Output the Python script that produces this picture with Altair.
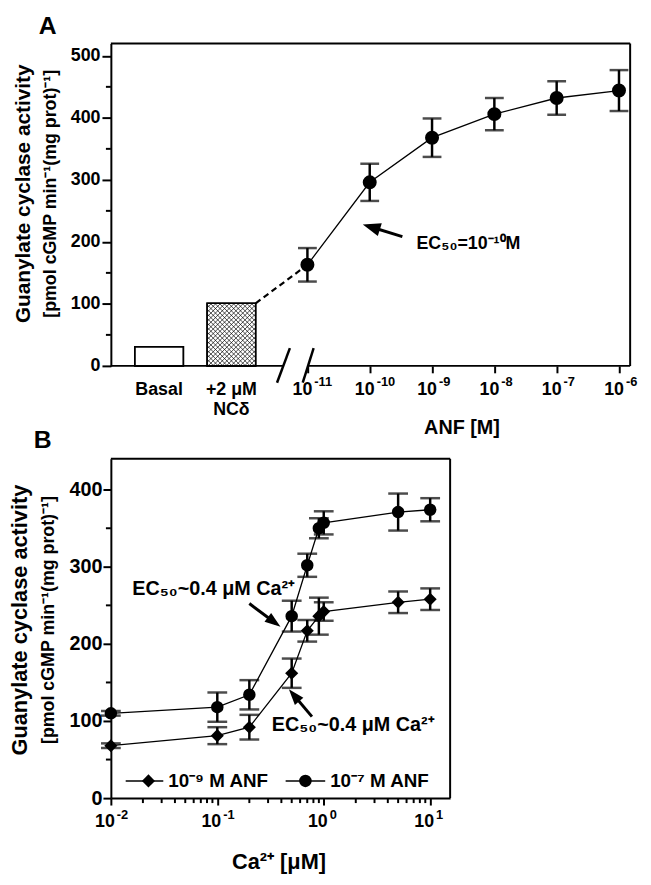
import math
import altair as alt
import pandas as pd

FONT = "Liberation Sans"

# ---------------- Panel A data ----------------
bar_labels = ["Basal", "+2 μM\nNCδ"]
bar_values = [31, 101]
bar_left = [-13.77, -12.61]      # slot on the ANF axis (log10 M units)
bar_right = [-12.99, -11.83]
anf_exponents = [-11, -10, -9, -8, -7, -6]
anf_tick_base = ["10", "10", "10", "10", "10", "10"]
anf_tick_exp = ["-11", "-10", "-9", "-8", "-7", "-6"]
anf_activity = [163, 296, 368, 406, 432, 444]
anf_sem = [27, 30, 31, 26, 27, 33]
a_y_ticks = [0, 100, 200, 300, 400, 500]
a_y_minor = [50, 150, 250, 350, 450]

# ---------------- Panel B data ----------------
ca_um = [0.01, 0.1, 0.2, 0.5, 0.7, 0.9, 1.0, 5, 10]
act_anf9 = [68, 81, 92, 162, 217, 236, 242, 254, 258]
sem_anf9 = [3, 11, 16, 19, 14, 24, 12, 14, 14]
act_anf7 = [110, 118, 134, 236, 302, 350, 357, 371, 374]
sem_anf7 = [3, 19, 19, 20, 15, 13, 15, 24, 15]
series_names = ["10⁻⁹ M ANF", "10⁻⁷ M ANF"]
ca_tick_values = [0.01, 0.1, 1, 10]
ca_tick_base = ["10", "10", "10", "10"]
ca_tick_exp = ["-2", "-1", "0", "1"]
b_y_ticks = [0, 100, 200, 300, 400]
b_y_minor = [50, 150, 250, 350]
ca_minor = [m * d for d in [0.01, 0.1, 1] for m in range(2, 10)]

y_title_1 = "Guanylate cyclase activity"
y_title_2 = "[pmol cGMP min⁻¹(mg prot)⁻¹]"

# ---------------- geometry ----------------
A_W, A_H = 525, 326
A_X = [-14.154, -5.821]
A_Y = [0, 520]
B_W, B_H = 343, 343
B_X = [0.01, 15.4]
B_Y = [0, 440]

one = pd.DataFrame({"a": [0]})


def txt(text, x, y, size, angle=0, align="center", baseline="alphabetic"):
    return alt.Chart(one).mark_text(
        text=text, font=FONT, fontWeight="bold", fontSize=size, align=align,
        baseline=baseline, angle=angle, color="black"
    ).encode(x=alt.value(x), y=alt.value(y))


def seg(x, y, x2, y2, w=2.0):
    return alt.Chart(one).mark_rule(color="black", strokeWidth=w).encode(
        x=alt.value(x), y=alt.value(y), x2=alt.value(x2), y2=alt.value(y2))


def arrow(tail, tip, r, half_w, w=3.0):
    dx, dy = tip[0] - tail[0], tip[1] - tail[1]
    L = math.hypot(dx, dy)
    ux, uy = dx / L, dy / L
    cx, cy = tip[0] - r * ux, tip[1] - r * uy
    ang = math.degrees(math.atan2(ux, -uy)) % 360
    path = f"M0,-1L{half_w},1L-{half_w},1Z"
    head = alt.Chart(one).mark_point(
        shape=path, filled=True, color="black", opacity=1, size=(2 * r) ** 2,
        angle=ang, strokeWidth=0
    ).encode(x=alt.value(cx), y=alt.value(cy))
    return seg(tail[0], tail[1], cx + 0.3 * r * ux, cy + 0.3 * r * uy, w) + head


def power_labels(df, xenc, y_base, y_exp, base_size, exp_size, dx):
    base = alt.Chart(df).mark_text(font=FONT, fontWeight="bold", fontSize=base_size, align="right",
                                   baseline="alphabetic", dx=dx, color="black").encode(
        x=xenc, y=alt.value(y_base), text="base:N")
    expo = alt.Chart(df).mark_text(font=FONT, fontWeight="bold", fontSize=exp_size, align="left",
                                   baseline="alphabetic", dx=dx + 2, color="black").encode(
        x=xenc, y=alt.value(y_exp), text="exp:N")
    return base + expo


# ================= Panel A =================
a_y_axis = alt.Axis(values=a_y_ticks, tickSize=9, tickWidth=2, tickColor="black",
                    domainWidth=2, domainColor="black", labelFont=FONT,
                    labelFontSize=18, labelFontWeight="bold", labelColor="black",
                    labelPadding=2, grid=False, title=None)
a_x_axis = alt.Axis(values=anf_exponents, labels=False, tickSize=7, tickWidth=2,
                    tickColor="black", domain=False, grid=False, title=None)
a_xs = alt.Scale(domain=A_X, nice=False, zero=False)
a_ys = alt.Scale(domain=A_Y, nice=False)


def xA(f):
    return alt.X(f, type="quantitative", scale=a_xs, axis=a_x_axis)


def yA(f):
    return alt.Y(f, type="quantitative", scale=a_ys, axis=a_y_axis)


bars = pd.DataFrame({"label": bar_labels, "v": bar_values, "l": bar_left, "r": bar_right})
bars["c"] = (bars["l"] + bars["r"]) / 2

bar_layer = alt.Chart(bars).mark_rect(fill="white", stroke="black", strokeWidth=1.5).encode(
    x=xA("l"), x2="r", y=yA("v"), y2=alt.datum(0))

# cross-hatch fill of the second bar (pixel pattern -> data units)
kx = A_W / (A_X[1] - A_X[0])
ky = A_H / (A_Y[1] - A_Y[0])
px0 = (bar_left[1] - A_X[0]) * kx
px1 = (bar_right[1] - A_X[0]) * kx
py0 = A_H - bar_values[1] * ky
py1 = A_H
rows = []
step = 4.6
c = -(px1 - py0) - step
while c < py1 - px0 + step:
    a0, a1 = max(px0, py0 - c), min(px1, py1 - c)
    if a1 > a0:
        rows.append((a0, a0 + c, a1, a1 + c))
    c += step
c = px0 + py0 - step
while c < px1 + py1 + step:
    a0, a1 = max(px0, c - py1), min(px1, c - py0)
    if a1 > a0:
        rows.append((a0, c - a0, a1, c - a1))
    c += step
hatch = pd.DataFrame(
    [(A_X[0] + p[0] / kx, (A_H - p[1]) / ky, A_X[0] + p[2] / kx, (A_H - p[3]) / ky) for p in rows],
    columns=["hx", "hy", "hx2", "hy2"])
hatch_layer = alt.Chart(hatch).mark_rule(color="black", strokeWidth=0.7).encode(
    x=xA("hx"), y=yA("hy"), x2="hx2", y2="hy2")
bar_outline = alt.Chart(bars).mark_rect(fill="transparent", stroke="black", strokeWidth=1.5).encode(
    x=xA("l"), x2="r", y=yA("v"), y2=alt.datum(0))

anf = pd.DataFrame({"x": anf_exponents, "y": anf_activity, "e": anf_sem})
anf["lo"] = anf["y"] - anf["e"]
anf["hi"] = anf["y"] + anf["e"]
caps_a = pd.concat([anf[["x"]].assign(cap=anf["lo"]), anf[["x"]].assign(cap=anf["hi"])])

dash = pd.DataFrame({"x": [bar_right[1], anf_exponents[0]], "y": [bar_values[1], anf_activity[0]]})
dash_layer = alt.Chart(dash).mark_line(color="black", strokeWidth=2.2, strokeDash=[6, 4]).encode(
    x=xA("x"), y=yA("y"))
line_a = alt.Chart(anf).mark_line(color="black", strokeWidth=1.3).encode(x=xA("x"), y=yA("y"))
err_a = alt.Chart(anf).mark_rule(color="black", strokeWidth=2.5).encode(
    x=xA("x"), y=yA("lo"), y2="hi")
cap_a = alt.Chart(caps_a).mark_tick(color="black", orient="horizontal", size=19, thickness=2.5).encode(
    x=xA("x"), y=yA("cap"))
pts_a = alt.Chart(anf).mark_point(shape="circle", filled=True, color="black", opacity=1, size=200).encode(
    x=xA("x"), y=yA("y"))
minor_a = alt.Chart(pd.DataFrame({"m": a_y_minor})).mark_rule(color="black", strokeWidth=2).encode(
    x=alt.value(-5), x2=alt.value(0), y=yA("m"))
bar_text = alt.Chart(bars).mark_text(font=FONT, fontWeight="bold", fontSize=18, baseline="alphabetic",
                                     lineBreak="\n", lineHeight=21, color="black").encode(
    x=xA("c"), y=alt.value(355), text="label:N")
a_ticks_df = pd.DataFrame({"x": anf_exponents, "base": anf_tick_base, "exp": anf_tick_exp})
a_tick_labels = power_labels(a_ticks_df, xA("x"), 355, 346, 18, 13, 5)

chartA = alt.layer(
    bar_layer, hatch_layer, bar_outline, dash_layer, line_a, err_a, cap_a, pts_a, minor_a, bar_text,
    a_tick_labels,
    seg(0, 0, A_W, 0), seg(A_W, 0, A_W, A_H),
    seg(0, A_H, 174.5, A_H), seg(199.6, A_H, A_W, A_H),
    seg(168, 343, 181, 308, 2.5), seg(194, 343, 205, 308, 2.5),
    txt("ANF  [M]", 355, 395, 20),
    txt(y_title_1, -88, 152, 21, angle=270, baseline="middle"),
    txt(y_title_2, -60, 152, 18, angle=270, baseline="middle"),
    txt("A", -64, -10, 25),
    txt("EC₅₀=10⁻¹⁰M", 309, 203, 18, align="left", baseline="middle"),
    arrow((294.7, 195.3), (254.7, 183), 9, 0.75),
).properties(width=A_W, height=A_H)

# ================= Panel B =================
b_y_axis = alt.Axis(values=b_y_ticks, tickSize=8, tickWidth=2, tickColor="black",
                    domainWidth=2, domainColor="black", labelFont=FONT,
                    labelFontSize=20, labelFontWeight="bold", labelColor="black",
                    labelPadding=1, grid=False, title=None)
b_x_axis = alt.Axis(values=ca_tick_values, labels=False, tickSize=7, tickWidth=2,
                    tickColor="black", domainWidth=2, domainColor="black",
                    grid=False, title=None)
b_xs = alt.Scale(type="log", domain=B_X, nice=False)
b_ys = alt.Scale(domain=B_Y, nice=False)


def xB(f):
    return alt.X(f, type="quantitative", scale=b_xs, axis=b_x_axis)


def yB(f):
    return alt.Y(f, type="quantitative", scale=b_ys, axis=b_y_axis)


rowsB = []
for name, acts, sems in [(series_names[0], act_anf9, sem_anf9), (series_names[1], act_anf7, sem_anf7)]:
    for x, y, e in zip(ca_um, acts, sems):
        rowsB.append({"series": name, "x": x, "y": y, "lo": y - e, "hi": y + e})
dfB = pd.DataFrame(rowsB)
capsB = pd.concat([dfB[["series", "x"]].assign(cap=dfB["lo"]), dfB[["series", "x"]].assign(cap=dfB["hi"])])

shape_enc = alt.Shape("series:N", scale=alt.Scale(domain=series_names, range=["diamond", "circle"]), legend=None)
size_enc = alt.Size("series:N", scale=alt.Scale(domain=series_names, range=[175, 160]), legend=None)

line_b = alt.Chart(dfB).mark_line(color="black", strokeWidth=1.3).encode(
    x=xB("x"), y=yB("y"), detail="series:N")
err_b = alt.Chart(dfB).mark_rule(color="black", strokeWidth=2.5).encode(
    x=xB("x"), y=yB("lo"), y2="hi")
cap_b = alt.Chart(capsB).mark_tick(color="black", orient="horizontal", size=20, thickness=2.5).encode(
    x=xB("x"), y=yB("cap"))
pts_b = alt.Chart(dfB).mark_point(filled=True, color="black", opacity=1).encode(
    x=xB("x"), y=yB("y"), shape=shape_enc, size=size_enc)
minor_by = alt.Chart(pd.DataFrame({"m": b_y_minor})).mark_rule(color="black", strokeWidth=2).encode(
    x=alt.value(-5), x2=alt.value(0), y=yB("m"))
minor_bx = alt.Chart(pd.DataFrame({"m": ca_minor})).mark_rule(color="black", strokeWidth=2).encode(
    x=xB("m"), y=alt.value(B_H), y2=alt.value(B_H + 5))
b_ticks_df = pd.DataFrame({"x": ca_tick_values, "base": ca_tick_base, "exp": ca_tick_exp})
b_tick_labels = power_labels(b_ticks_df, xB("x"), 372, 364, 18, 13, 4)


def legend_item(x0, x1, cx, shape, size, label):
    sym = alt.Chart(one).mark_point(shape=shape, filled=True, color="black", opacity=1, size=size).encode(
        x=alt.value(cx), y=alt.value(325.6))
    return seg(x0, 325.6, x1, 325.6, 1.5) + sym + txt(label, x1 + 5, 325.6, 19, align="left", baseline="middle")


chartB = alt.layer(
    line_b, err_b, cap_b, pts_b, minor_by, minor_bx, b_tick_labels,
    seg(0, 0, B_W, 0), seg(B_W, 0, B_W, B_H),
    legend_item(15, 53, 38, "diamond", 175, series_names[0]),
    legend_item(176.7, 216.7, 196.7, "circle", 160, series_names[1]),
    txt("Ca²⁺ [μM]", 170, 415, 22),
    txt(y_title_1, -92, 163, 22, angle=270, baseline="middle"),
    txt(y_title_2, -62, 163, 18, angle=270, baseline="middle"),
    txt("B", -69, -11, 25),
    txt("EC₅₀~0.4 μM Ca²⁺", 21.7, 137.3, 20, align="left"),
    txt("EC₅₀~0.4 μM Ca²⁺", 162.7, 275.6, 20, align="left"),
    arrow((140, 146.3), (171.5, 169.8), 8, 0.7),
    arrow((203.3, 260.6), (180, 233), 8, 0.7),
).properties(width=B_W, height=B_H)

chart = alt.vconcat(chartA, chartB, spacing=94, bounds="flush").properties(
    padding={"left": 0, "top": 0, "right": 5, "bottom": 5}
).configure_view(stroke="transparent")

chart.save("out.html", embed_options={"renderer": "svg", "actions": False})
